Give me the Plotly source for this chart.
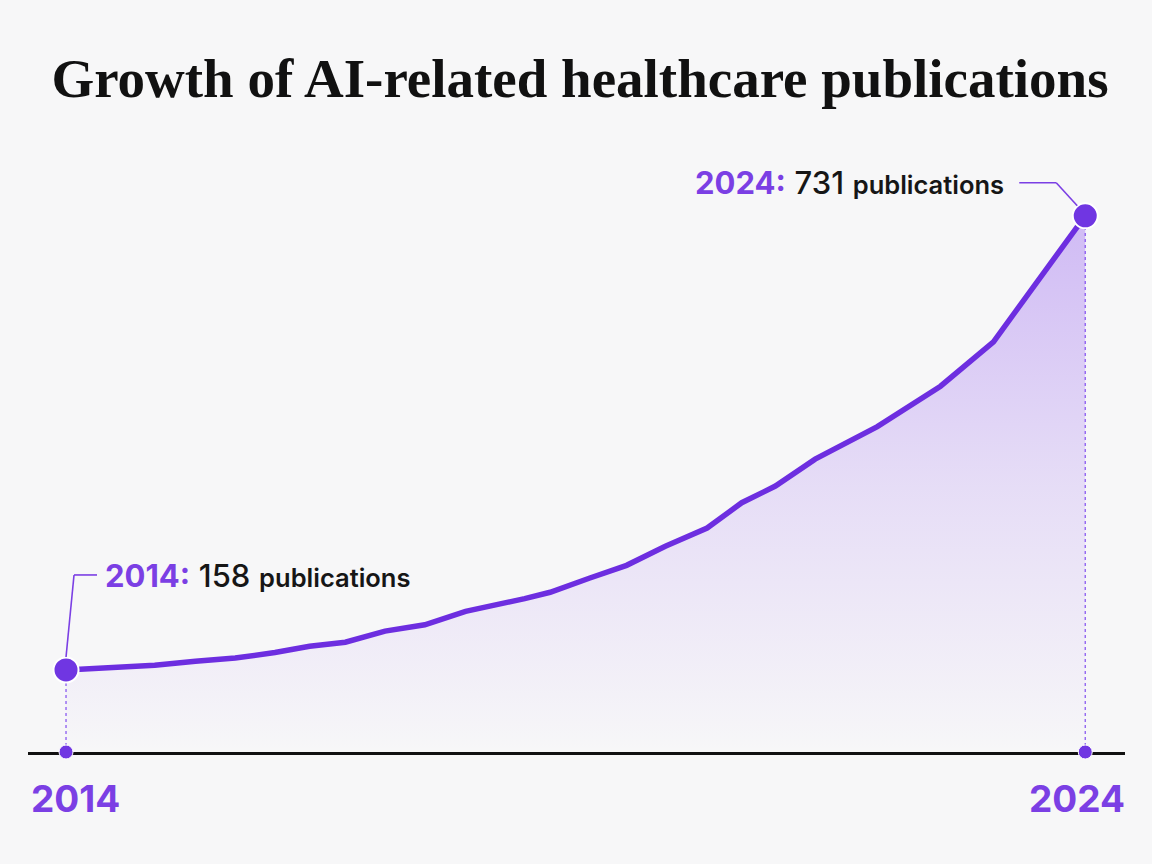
import plotly.graph_objects as go

# Data
years = [2014.0, 2014.87, 2015.27, 2015.66, 2016.05, 2016.39, 2016.74, 2017.13,
         2017.52, 2017.92, 2018.5, 2018.75, 2019.14, 2019.5, 2019.88, 2020.29,
         2020.63, 2020.96, 2021.35, 2021.96, 2022.58, 2023.1, 2024.0]
publications = [158, 164, 169, 173, 180, 188, 193, 207,
                215, 232, 248, 256, 274, 290, 314, 337,
                369, 390, 424, 465, 516, 572, 731]
end_years = [2014, 2024]
end_values = [158, 731]
year_labels = ["2014", "2024"]

TITLE = "Growth of AI-related healthcare publications"
PURPLE = "#6D2EE0"
LABEL_PURPLE = "#7B3FE4"
BG = "#F7F7F8"
Y_MIN, Y_MAX = 54.5, 814
X_MIN, X_MAX = 2013.627, 2024.39

fig = go.Figure()

fig.add_trace(go.Scatter(
    x=years, y=publications, mode="lines",
    line=dict(color=PURPLE, width=5.5),
    fill="tozeroy",
    fillgradient=dict(type="vertical", start=Y_MIN, stop=max(publications),
                      colorscale=[[0, "rgba(124,58,237,0.0)"],
                                  [0.1, "rgba(124,58,237,0.03)"],
                                  [0.5, "rgba(124,58,237,0.14)"],
                                  [1, "rgba(124,58,237,0.32)"]]),
    hoverinfo="skip", showlegend=False))

# drop lines
for xv, yv in zip(end_years, end_values):
    fig.add_shape(type="line", x0=xv, x1=xv, y0=Y_MIN, y1=yv,
                  line=dict(color="#8B5CF0", width=1.3, dash="dot"), layer="below")

# end markers
fig.add_trace(go.Scatter(
    x=end_years, y=end_values, mode="markers",
    marker=dict(size=25, color="#7036E2", line=dict(color="white", width=2)),
    cliponaxis=False, hoverinfo="skip", showlegend=False))
fig.add_trace(go.Scatter(
    x=end_years, y=[Y_MIN, Y_MIN], mode="markers",
    marker=dict(size=14, color="#7036E2", line=dict(color="white", width=1)),
    cliponaxis=False, hoverinfo="skip", showlegend=False))

# leader lines (pixel offsets relative to the points)
def seg(xa, ya, x0, y0, x1, y1):
    fig.add_shape(type="line", xref="x", yref="y", xsizemode="pixel", ysizemode="pixel",
                  xanchor=xa, yanchor=ya, x0=x0, y0=y0, x1=x1, y1=y1,
                  line=dict(color="#7B3FE4", width=1.6))

seg(end_years[0], end_values[0], 0, 13, 8, 95)
seg(end_years[0], end_values[0], 8, 95, 31, 95)
seg(end_years[1], end_values[1], -8, 10, -29, 33)
seg(end_years[1], end_values[1], -29, 33, -66, 33)

def label(year, val):
    return (f"<span style='color:{LABEL_PURPLE};font-weight:700'>{year}:</span> "
            f"<span style='font-weight:500'>{val}</span> "
            f"<span style='font-size:25.5px;font-weight:600'>publications</span>")

fig.add_annotation(x=end_years[0], y=end_values[0], text=label(end_years[0], end_values[0]),
                   showarrow=False, xanchor="left", yanchor="middle", xshift=37, yshift=94,
                   font=dict(family="Inter", size=31, color="#161616"))
fig.add_annotation(x=end_years[1], y=end_values[1], text=label(end_years[1], end_values[1]),
                   showarrow=False, xanchor="right", yanchor="middle", xshift=-79, yshift=33,
                   font=dict(family="Inter", size=31, color="#161616"))

for xv, txt, xs in zip(end_years, year_labels, [9, -8]):
    fig.add_annotation(x=xv, y=0, yref="paper", text=txt, showarrow=False,
                       xanchor="center", yanchor="top", xshift=xs, yshift=-22,
                       font=dict(family="Inter", size=37, color=LABEL_PURPLE, weight=700))

fig.update_layout(
    width=1152, height=864,
    paper_bgcolor=BG, plot_bgcolor=BG,
    margin=dict(l=28, r=27, t=150, b=112),
    title=dict(text=f"<b>{TITLE}</b>", x=(47 + 1113) / 2 / 1152, xanchor="center",
               y=1 - 78/864, yanchor="middle",
               font=dict(family="Liberation Serif", size=55, color="#111111")),
    xaxis=dict(range=[X_MIN, X_MAX], showgrid=False, zeroline=False, showticklabels=False,
               showline=True, linecolor="#111111", linewidth=3, ticks="", layer="below traces"),
    yaxis=dict(range=[Y_MIN, Y_MAX], showgrid=False, zeroline=False, showticklabels=False,
               showline=False, ticks=""),
    showlegend=False,
)

fig.write_html("out.html")
